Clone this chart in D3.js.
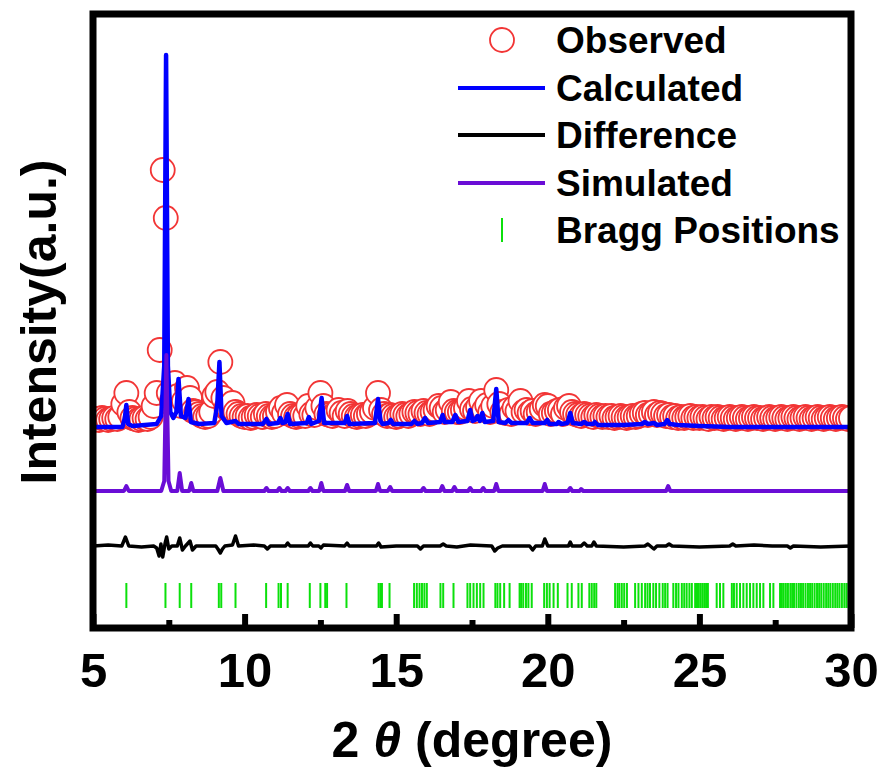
<!DOCTYPE html>
<html>
<head>
<meta charset="utf-8">
<script src="https://cdn.jsdelivr.net/npm/d3@7"></script>
<style>
  body { margin: 0; background: #fff; }
  text { font-family: "Liberation Sans", Arial, sans-serif; font-weight: bold; }
</style>
</head>
<body>
<svg id="chart" width="882" height="771"></svg>
<script>
// observed intensity, 2theta from 5.0 in 0.1 steps
var obsStart = 5.0, obsStep = 0.1;
var obsY = [
  6,7,6,8,7,6,7,8,7,9,
  22,33,14,8,7,6,7,8,7,9,
  20,33,76,256,208,33,25,43,30,20,
  25,38,28,15,14,12,10,9,10,14,
  30,34,64,28,18,16,23,14,12,10,
  9,10,8,9,11,10,9,12,10,9,
  10,14,18,13,21,12,10,9,10,11,
  10,20,12,11,18,33,20,12,11,10,
  12,16,13,10,15,12,10,9,10,11,
  10,12,14,18,33,16,12,10,11,10,
  9,10,12,11,10,12,14,13,12,15,
  13,12,14,16,20,18,14,16,24,15,
  14,14,16,18,25,17,15,19,25,16,
  21,14,20,36,22,14,13,16,12,18,
  15,25,14,16,13,15,12,14,17,21,
  20,12,13,15,16,12,18,20,14,12,
  11,10,12,11,10,9,11,10,9,10,
  9,10,8,9,10,9,8,9,10,9,
  10,12,13,11,12,14,11,13,12,10,
  11,9,10,8,9,8,9,10,8,9,
  8,9,8,7,9,8,9,8,7,8,
  9,8,7,8,9,8,7,8,9,8,
  8,7,8,9,8,7,8,9,8,7,
  8,9,8,7,8,9,8,7,8,9,
  8,7,8,9,8,7,8,9,8,7,
  8
];

// calculated profile [2theta, intensity]
var calc = [
  [5,-1],[5.97,-1],[6.05,8],[6.1,21],[6.16,2],[6.3,0],[7.1,2],[7.25,10],[7.35,60],[7.41,371],
  [7.47,60],[7.55,14],[7.65,8],[7.75,14],[7.82,47],[7.9,10],[8.05,8],[8.15,27],[8.23,4],[8.5,2],
  [9.0,3],[9.1,22],[9.17,64],[9.24,10],[9.4,3],[9.7,5],[9.8,2],[10.6,2],[10.72,7],[10.8,2],
  [11.1,3],[11.18,8],[11.25,3],[11.35,4],[11.42,12],[11.5,2],[12.05,3],[12.12,9],[12.2,2],
  [12.45,5],[12.54,28],[12.62,3],[13.3,3],[13.38,10],[13.46,2],[14.3,3],[14.4,27],[14.48,5],
  [14.55,2],[14.75,3],[14.82,6],[14.9,2],[15.5,2],[15.6,5],[15.7,2],[15.85,3],[15.95,8],[16.05,3],
  [16.45,4],[16.53,11],[16.6,4],[16.85,4],[16.95,11],[17.05,4],[17.35,5],[17.44,16],[17.52,5],
  [17.6,6],[17.68,10],[17.76,5],[17.84,13],[17.92,4],[18.2,5],[18.3,37],[18.38,4],[18.6,3],
  [18.7,6],[18.8,3],[19.3,3],[19.4,8],[19.5,3],[19.9,3],[19.98,6],[20.05,2],[20.3,2],[20.35,4],
  [20.45,2],[20.65,3],[20.74,13],[20.82,3],[21.1,2],[21.2,4],[21.3,2],[21.5,2],[21.55,4],[21.65,1],
  [22.5,1],[23.1,2],[23.2,4],[23.3,2],[23.5,3],[23.6,1],[23.85,2],[23.94,6],[24.02,2],[24.3,1],
  [25,0],[26,-1],[30,-1]
];

// difference profile
var diff = [
  [5,0],[5.5,1],[5.95,0],[6.07,9],[6.18,0],[6.6,-1],[7.0,0],[7.1,-2],[7.18,-10],[7.24,2],[7.3,-11],
  [7.38,3],[7.43,9],[7.5,-3],[7.6,0],[7.78,0],[7.86,8],[7.95,-4],[8.05,0],[8.2,5],[8.28,-4],
  [8.4,0],[9.05,0],[9.12,-3],[9.2,-7],[9.27,-3],[9.35,0],[9.6,1],[9.7,10],[9.8,0],[10.3,1],
  [10.65,0],[10.75,-3],[10.85,0],[11.35,0],[11.42,3],[11.5,0],[12.1,0],[12.17,3],[12.25,0],
  [12.45,0],[12.52,-2],[12.6,1],[13.3,0],[13.38,3],[13.45,0],[14.35,0],[14.42,3],[14.5,-1],
  [15.0,0],[15.7,0],[15.8,-3],[15.9,0],[16.45,0],[16.55,2],[16.65,0],[17.0,-1],[17.45,1],
  [18.15,0],[18.25,-5],[18.35,-2],[18.5,0],[19.4,0],[19.5,-4],[19.6,0],[19.82,0],[19.9,7],
  [20.0,0],[20.68,0],[20.74,4],[20.8,0],[21.1,0],[21.2,3],[21.3,0],[21.45,0],[21.52,4],[21.6,0],
  [22.5,-1],[23.2,0],[23.3,2],[23.5,-3],[23.6,0],[23.9,0],[24.0,2],[24.1,0],[25,-1],[26.0,0],
  [26.1,2],[26.2,0],[26.8,1],[27.4,0],[27.9,0],[28.0,-2],[28.1,0],[29,-1],[30,0]
];

// simulated pattern
var sim = [
  [5,0],[6.02,0],[6.1,5],[6.18,0],[7.25,0],[7.35,10],[7.42,136],[7.49,10],[7.58,0],[7.78,0],
  [7.86,18],[7.94,0],[8.17,0],[8.24,8],[8.31,0],[9.1,0],[9.2,13],[9.3,0],[10.65,0],[10.72,3],
  [10.79,0],[11.08,0],[11.15,3],[11.22,0],[11.35,0],[11.42,3],[11.49,0],[12.1,0],[12.17,3],
  [12.24,0],[12.46,0],[12.53,8],[12.6,0],[13.31,0],[13.38,6],[13.45,0],[14.33,0],[14.4,7],
  [14.47,0],[14.72,0],[14.8,4],[14.87,0],[15.83,0],[15.9,3],[15.97,0],[16.45,0],[16.52,5],
  [16.59,0],[16.85,0],[16.92,4],[16.99,0],[17.37,0],[17.44,3],[17.51,0],[17.8,0],[17.87,3],
  [17.94,0],[18.23,0],[18.3,7],[18.37,0],[19.83,0],[19.9,7],[19.97,0],[20.67,0],[20.74,3],
  [20.81,0],[21.05,0],[21.1,2],[21.17,0],[23.9,0],[23.97,5],[24.04,0],[30,0]
];

// Bragg reflection positions
var bragg = [
  6.10,7.39,7.86,8.24,9.15,9.23,9.70,10.71,11.12,11.20,11.42,12.15,12.50,12.66,12.72,13.36,
  14.42,14.48,14.53,14.78,15.59,15.68,15.77,15.85,15.93,16.01,16.46,16.55,16.89,
  17.35,17.44,17.55,17.66,17.77,17.88,18.27,18.34,18.43,18.56,18.74,
  19.07,19.12,19.19,19.28,19.36,19.47,19.88,19.97,20.06,20.19,20.33,20.65,20.79,21.01,21.12,
  21.37,21.45,21.53,21.60,22.22,22.30,22.36,22.44,22.52,22.61,22.88,22.99,23.10,23.21,23.29,
  23.37,23.48,23.57,23.68,23.79,23.87,23.95,24.14,24.23,24.31,24.42,24.50,24.58,24.67,24.75,
  24.86,24.92,24.98,25.04,25.10,25.16,25.22,25.28,25.57,25.68,25.79,26.07,26.14,26.23,26.34,
  26.45,26.56,26.67,26.78,26.89,27.00,27.11,27.33,27.44,27.66,27.72,27.78,27.85,27.92,28.00,
  28.06,28.12,28.20,28.28,28.35,28.42,28.50,28.58,28.65,28.72,28.80,28.88,28.95,29.02,29.10,
  29.18,29.25,29.32,29.40,29.48,29.55,29.62,29.70,29.78,29.85,29.92
];

var xTicks = [5, 10, 15, 20, 25, 30];
var xMinor = [7.5, 12.5, 17.5, 22.5, 27.5];
var legendItems = ["Observed", "Calculated", "Difference", "Simulated", "Bragg Positions"];

// offsets for stacked curves
var simOffset = -65, diffOffset = -120, braggTop = -157, braggBottom = -182;

var plotL = 93, plotR = 851, plotT = 14, plotB = 628;
var svg = d3.select("#chart");

var x = d3.scaleLinear().domain([5, 30]).range([plotL, plotR]);
var y = d3.scaleLinear().domain([-202, 412]).range([plotB, plotT]);

svg.append("clipPath").attr("id", "clip")
  .append("rect").attr("x", plotL).attr("y", plotT)
  .attr("width", plotR - plotL).attr("height", plotB - plotT);

var plot = svg.append("g").attr("clip-path", "url(#clip)");

var obs = obsY.map(function(v, i) { return [obsStart + i * obsStep, v]; });

plot.selectAll("circle.obs")
  .data(obs)
  .enter().append("circle")
  .attr("class", "obs")
  .attr("cx", function(d) { return x(d[0]); })
  .attr("cy", function(d) { return y(d[1]); })
  .attr("r", 12)
  .attr("fill", "#fff")
  .attr("stroke", "#f23535")
  .attr("stroke-width", 1.8);

function lineWith(off) {
  return d3.line()
    .x(function(d) { return x(d[0]); })
    .y(function(d) { return y(d[1] + off); });
}

plot.append("path").datum(calc)
  .attr("d", lineWith(0))
  .attr("fill", "none").attr("stroke", "#0000ff")
  .attr("stroke-width", 4.5).attr("stroke-linejoin", "round").attr("stroke-linecap", "round");

plot.append("path").datum(sim)
  .attr("d", lineWith(simOffset))
  .attr("fill", "none").attr("stroke", "#6a0dd6")
  .attr("stroke-width", 4).attr("stroke-linejoin", "round");

plot.append("path").datum(diff)
  .attr("d", lineWith(diffOffset))
  .attr("fill", "none").attr("stroke", "#000")
  .attr("stroke-width", 3.5).attr("stroke-linejoin", "round");

plot.selectAll("line.bragg")
  .data(bragg)
  .enter().append("line")
  .attr("class", "bragg")
  .attr("x1", function(d) { return x(d); })
  .attr("x2", function(d) { return x(d); })
  .attr("y1", y(braggTop))
  .attr("y2", y(braggBottom))
  .attr("stroke", "#0be00b")
  .attr("stroke-width", 2);

// axis ticks (inward) and labels
var xAxis = svg.append("g")
  .attr("transform", "translate(0," + plotB + ")")
  .call(d3.axisBottom(x).tickValues(xTicks).tickSize(-14).tickPadding(24));
xAxis.select(".domain").remove();
xAxis.selectAll(".tick line").attr("stroke", "#000").attr("stroke-width", 6);
xAxis.selectAll(".tick text")
  .attr("fill", "#000")
  .style("font-family", '"Liberation Sans", Arial, sans-serif')
  .style("font-weight", "bold")
  .style("font-size", "49px");

var minorAxis = svg.append("g")
  .attr("transform", "translate(0," + plotB + ")")
  .call(d3.axisBottom(x).tickValues(xMinor).tickSize(-8).tickFormat(""));
minorAxis.select(".domain").remove();
minorAxis.selectAll(".tick line").attr("stroke", "#000").attr("stroke-width", 6);

// frame
svg.append("rect")
  .attr("x", plotL).attr("y", plotT)
  .attr("width", plotR - plotL).attr("height", plotB - plotT)
  .attr("fill", "none").attr("stroke", "#000").attr("stroke-width", 7);

// axis titles
var xt = svg.append("text")
  .attr("x", (plotL + plotR) / 2).attr("y", 757)
  .attr("text-anchor", "middle")
  .style("font-size", "50px");
xt.append("tspan").text("2 ");
xt.append("tspan").style("font-style", "italic").text("\u03b8");
xt.append("tspan").text(" (degree)");

svg.append("text")
  .attr("transform", "translate(56,322) rotate(-90)")
  .attr("text-anchor", "middle")
  .style("font-size", "50px")
  .text("Intensity(a.u.)");

// legend
var legY = [40, 88, 135, 183, 230];
var leg = svg.append("g");
leg.append("circle").attr("cx", 502).attr("cy", legY[0]).attr("r", 12)
  .attr("fill", "none").attr("stroke", "#f23535").attr("stroke-width", 1.8);
[["#0000ff", 1], ["#000", 2], ["#6a0dd6", 3]].forEach(function(p) {
  leg.append("line").attr("x1", 458).attr("x2", 545)
    .attr("y1", legY[p[1]]).attr("y2", legY[p[1]])
    .attr("stroke", p[0]).attr("stroke-width", 4);
});
leg.append("line").attr("x1", 502).attr("x2", 502)
  .attr("y1", legY[4] - 12).attr("y2", legY[4] + 12)
  .attr("stroke", "#0be00b").attr("stroke-width", 2);
leg.selectAll("text.leg")
  .data(legendItems)
  .enter().append("text")
  .attr("class", "leg")
  .attr("x", 556)
  .attr("y", function(d, i) { return legY[i] + 13; })
  .style("font-size", "37px")
  .text(function(d) { return d; });
</script>
</body>
</html>
